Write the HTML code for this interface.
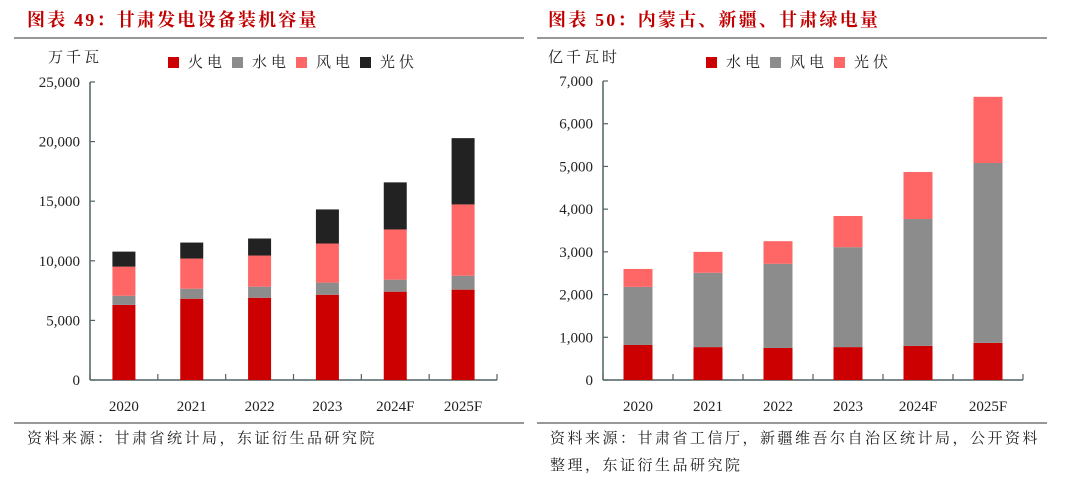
<!DOCTYPE html>
<html><head><meta charset="utf-8">
<style>
body{margin:0;background:#fff;width:1080px;height:483px;overflow:hidden;font-family:"Liberation Serif","Noto Serif CJK SC",serif;}
svg{position:absolute;left:0;top:0}
</style></head>
<body>
<svg width="1080" height="483">
<g id="L"></g>
<g id="R"></g>
</svg>
<script>
const catsL=["2020","2021","2022","2023","2024F","2025F"];
const thermal=[6300,6820,6900,7150,7410,7580];
const hydroL=[770,840,930,1020,1010,1170];
const windL=[2440,2530,2610,3280,4210,5980];
const solar=[1260,1340,1430,2860,3950,5560];
const ticksL=[0,5000,10000,15000,20000,25000];
const catsR=["2020","2021","2022","2023","2024F","2025F"];
const hydroR=[820,770,750,770,800,870];
const windR=[1360,1740,1970,2340,2970,4210];
const solarR=[420,490,530,730,1100,1550];
const ticksR=[0,1000,2000,3000,4000,5000,6000,7000];
const NS="http://www.w3.org/2000/svg";
function mk(p,t,a,txt){const e=document.createElementNS(NS,t);for(const k in a)e.setAttribute(k,a[k]);if(txt!=null)e.textContent=txt;p.appendChild(e);return e;}
function fmt(v){return v.toLocaleString("en-US");}
function chart(g,o){
  const y=v=>o.y0-(v/o.max)*(o.y0-o.yTop);
  const cw=(o.x1-o.x0)/o.cats.length;
  const x=i=>o.x0+cw*(i+0.5);
  let t=mk(g,"text",{x:o.tx,y:26,fill:"#c00000","font-size":18,"letter-spacing":2.2,"font-weight":"bold"},o.title);
  
  
  let l=mk(g,"line",{x1:o.lx0,x2:o.lx1,y1:38,y2:38,stroke:"#777","stroke-width":1.5});
  
  
  l=mk(g,"line",{x1:o.lx0,x2:o.lx1,y1:423,y2:423,stroke:"#777","stroke-width":1.5});
  
  
  o.src.forEach((s,i)=>{let e=mk(g,"text",{x:o.lx0+13,y:443+i*27,fill:"#222","font-size":15,"letter-spacing":2.5},s);
    
    });
  t=mk(g,"text",{x:o.ux,y:62,fill:"#222","font-size":15,"letter-spacing":3},o.unit);
  
  
  let lx=o.legX;
  o.series.forEach(s=>{
    const r=mk(g,"rect",{x:lx,y:57,width:11,height:11,fill:s.c});
    
    
    const tt=mk(g,"text",{x:lx+20,y:67,fill:"#222","font-size":15,"letter-spacing":4},s.n);
    
    
    lx+=64;
  });
  mk(g,"line",{x1:o.x0,x2:o.x0,y1:o.yTop,y2:o.y0,stroke:"#4f6464","stroke-width":1.5});
  mk(g,"line",{x1:o.x0,x2:o.x1,y1:o.y0,y2:o.y0,stroke:"#4f6464","stroke-width":1.5});
  o.ticks.forEach(v=>{
    mk(g,"line",{x1:o.x0,x2:o.x0+5,y1:y(v),y2:y(v),stroke:"#4f6464","stroke-width":1.2});
    const e=mk(g,"text",{x:o.x0-10,y:y(v)+5,"text-anchor":"end",fill:"#222","font-size":15},fmt(v));
    
    
  });
  for(let i=0;i<=o.cats.length;i++)mk(g,"line",{x1:o.x0+cw*i,x2:o.x0+cw*i,y1:o.y0,y2:o.y0-6,stroke:"#4f6464","stroke-width":1.2});
  o.cats.forEach((c,i)=>{
    let base=0;
    o.series.forEach(s=>{
      const v=s.d[i];
      const r=mk(g,"rect",{x:x(i)-o.bw/2,y:y(base+v),width:o.bw,height:y(base)-y(base+v),fill:s.c});
      
      
      base+=v;
    });
    const e=mk(g,"text",{x:x(i),y:411,"text-anchor":"middle",fill:"#222","font-size":15},c);
    
    
  });
}
chart(document.getElementById("L"),{title:"图表 49：甘肃发电设备装机容量",tx:27,lx0:14,lx1:524,unit:"万千瓦",ux:48,legX:168,
  x0:90,x1:497,y0:380,yTop:82,max:25000,bw:23,cats:catsL,ticks:ticksL,
  src:["资料来源：甘肃省统计局，东证衍生品研究院"],
  series:[{n:"火电",k:"thermal",c:"#cc0000",d:thermal},{n:"水电",k:"hydro",c:"#8c8c8c",d:hydroL},{n:"风电",k:"wind",c:"#ff6666",d:windL},{n:"光伏",k:"solar",c:"#222222",d:solar}]});
chart(document.getElementById("R"),{title:"图表 50：内蒙古、新疆、甘肃绿电量",tx:548,lx0:537,lx1:1047,unit:"亿千瓦时",ux:548,legX:706,
  x0:603,x1:1023,y0:380,yTop:81,max:7000,bw:29,cats:catsR,ticks:ticksR,
  src:["资料来源：甘肃省工信厅，新疆维吾尔自治区统计局，公开资料","整理，东证衍生品研究院"],
  series:[{n:"水电",k:"hydro",c:"#cc0000",d:hydroR},{n:"风电",k:"wind",c:"#8c8c8c",d:windR},{n:"光伏",k:"solar",c:"#ff6666",d:solarR}]});
</script>
</body></html>
